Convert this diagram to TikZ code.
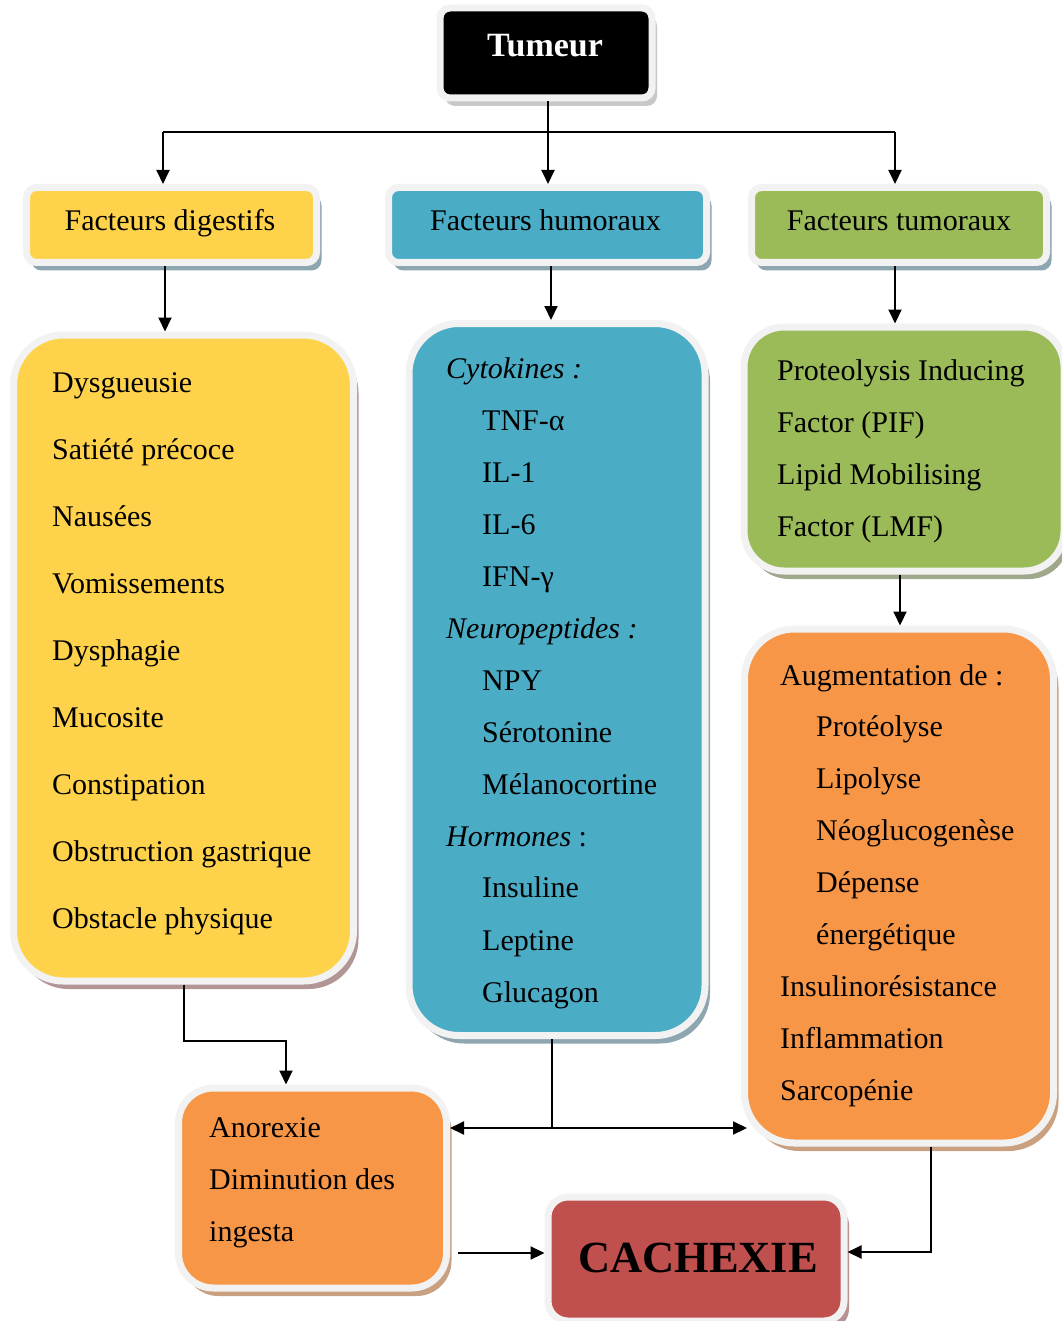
\documentclass[tikz,border=0pt]{standalone}
\usepackage{fontspec}
\setmainfont{Liberation Serif}
\usetikzlibrary{shadows,arrows.meta}
\definecolor{cyel}{RGB}{254,210,74}
\definecolor{cblu}{RGB}{75,172,198}
\definecolor{cgrn}{RGB}{155,187,89}
\definecolor{corg}{RGB}{247,150,70}
\definecolor{cred}{RGB}{192,80,77}
\definecolor{cfrm}{RGB}{242,242,242}
\definecolor{shgray}{RGB}{200,200,200}
\definecolor{shblu}{RGB}{142,166,176}
\definecolor{shyel}{RGB}{178,150,150}
\definecolor{shgrn}{RGB}{160,168,140}
\definecolor{shorg}{RGB}{201,160,128}
\definecolor{shred}{RGB}{184,146,146}
\tikzset{
  bx/.style n args={3}{draw=cfrm, line width=7pt, fill=#1, rounded corners=#2,
    inner sep=0pt, drop shadow={shadow xshift=5pt, shadow yshift=-8pt, fill=#3, opacity=1}},
  txt/.style={font=\fontsize{30}{36}\selectfont, anchor=base west, inner sep=0pt},
  ttl/.style={font=\fontsize{30}{36}\selectfont, anchor=base, inner sep=0pt},
  arr/.style={line width=2pt, -{Triangle[length=14pt,width=13pt]}},
  ln/.style={line width=2pt}
}
\begin{document}
\begin{tikzpicture}[x=1pt,y=-1pt]
\useasboundingbox (0,0) rectangle (1061,1321);
% boxes
\node[bx={black}{10pt}{shgray}, minimum width=212pt, minimum height=90pt] (tumeur) at (546,53) {};
\node[bx={cyel}{10pt}{shblu}, minimum width=290pt, minimum height=75pt] (digest) at (171.5,225) {};
\node[bx={cblu}{10pt}{shblu}, minimum width=318pt, minimum height=75pt] (humor) at (547.5,225) {};
\node[bx={cgrn}{10pt}{shblu}, minimum width=295pt, minimum height=75pt] (tumor) at (899,225) {};
\node[bx={cyel}{50pt}{shyel}, minimum width=340pt, minimum height=646pt] (yellow) at (183.5,658) {};
\node[bx={cblu}{50pt}{shblu}, minimum width=296pt, minimum height=712pt] (blue) at (557,679.5) {};
\node[bx={cgrn}{40pt}{shgrn}, minimum width=320pt, minimum height=244pt] (green) at (904,449) {};
\node[bx={corg}{50pt}{shorg}, minimum width=309pt, minimum height=514pt] (orangeR) at (899,886) {};
\node[bx={corg}{35pt}{shorg}, minimum width=268pt, minimum height=200pt] (orangeL) at (312.5,1188) {};
\node[bx={cred}{20pt}{shred}, minimum width=296pt, minimum height=124pt] (cachexie) at (696,1259) {};
% titles
\node[ttl, font=\fontsize{34}{40}\selectfont\bfseries, text=white] (ttum) at (545,57) {Tumeur};
\node[ttl] (tdig) at (170,231) {Facteurs digestifs};
\node[ttl] (thum) at (545.5,231) {Facteurs humoraux};
\node[ttl] (ttmr) at (899,231) {Facteurs tumoraux};
\node[ttl, font=\fontsize{44.5}{50}\selectfont\bfseries] (tcach) at (698,1272) {CACHEXIE};
% yellow texts
\node[txt] (y1) at (52,392) {Dysgueusie};
\node[txt] (y2) at (52,459) {Satiété précoce};
\node[txt] (y3) at (52,526) {Nausées};
\node[txt] (y4) at (52,593) {Vomissements};
\node[txt] (y5) at (52,660) {Dysphagie};
\node[txt] (y6) at (52,727) {Mucosite};
\node[txt] (y7) at (52,794) {Constipation};
\node[txt] (y8) at (52,861) {Obstruction gastrique};
\node[txt] (y9) at (52,928) {Obstacle physique};
% blue texts
\node[txt] (b1) at (446,378) {\textit{Cytokines :}};
\node[txt] (b2) at (482,430) {TNF-α};
\node[txt] (b3) at (482,482) {IL-1};
\node[txt] (b4) at (482,534) {IL-6};
\node[txt] (b5) at (482,586) {IFN-γ};
\node[txt] (b6) at (446,638) {\textit{Neuropeptides :}};
\node[txt] (b7) at (482,690) {NPY};
\node[txt] (b8) at (482,742) {Sérotonine};
\node[txt] (b9) at (482,794) {Mélanocortine};
\node[txt] (b10) at (446,846) {\textit{Hormones} :};
\node[txt] (b11) at (482,897) {Insuline};
\node[txt] (b12) at (482,950) {Leptine};
\node[txt] (b13) at (482,1002) {Glucagon};
% green texts
\node[txt] (g1) at (777,380) {Proteolysis Inducing};
\node[txt] (g2) at (777,432) {Factor (PIF)};
\node[txt] (g3) at (777,484) {Lipid Mobilising};
\node[txt] (g4) at (777,536) {Factor (LMF)};
% orange right texts
\node[txt] (r1) at (780,685) {Augmentation de :};
\node[txt] (r2) at (816,736) {Protéolyse};
\node[txt] (r3) at (816,788) {Lipolyse};
\node[txt] (r4) at (816,840) {Néoglucogenèse};
\node[txt] (r5) at (816,892) {Dépense};
\node[txt] (r6) at (816,944) {énergétique};
\node[txt] (r7) at (780,996) {Insulinorésistance};
\node[txt] (r8) at (780,1048) {Inflammation};
\node[txt] (r9) at (780,1100) {Sarcopénie};
% orange left texts
\node[txt] (l1) at (209,1137) {Anorexie};
\node[txt] (l2) at (209,1189) {Diminution des};
\node[txt] (l3) at (209,1241) {ingesta};
% connectors
\coordinate (t0) at ([xshift=2pt]tumeur.south);
\coordinate (jl) at (163,132);
\coordinate (jr) at (895,132);
\draw[arr] (t0) -- (t0 |- humor.north);
\draw[ln] (jl) -- (jr);
\draw[arr] (jl) -- (jl |- digest.north);
\draw[arr] (jr) -- (jr |- tumor.north);
\coordinate (d0) at ([xshift=-6.5pt]digest.south);
\draw[arr] (d0) -- (d0 |- yellow.north);
\coordinate (h0) at ([xshift=3.5pt]humor.south);
\draw[arr] (h0) -- (h0 |- blue.north);
\coordinate (m0) at ([xshift=-4pt]tumor.south);
\draw[arr] (m0) -- (m0 |- green.north);
\coordinate (g0) at ([xshift=-4pt]green.south);
\draw[arr] (g0) -- (g0 |- orangeR.north);
\coordinate (y0) at ([xshift=0.5pt]yellow.south);
\coordinate (o1) at ([xshift=-26.5pt]orangeL.north);
\draw[arr] (y0) -- ++(0,56) -| (o1);
\coordinate (b0) at ([xshift=-5pt]blue.south);
\coordinate (bh) at (552,1128);
\draw[ln] (b0) -- (bh);
\draw[arr] (bh) -- (bh -| orangeL.east);
\draw[arr] (bh) -- ([xshift=6pt]bh -| orangeR.west);
\coordinate (l0) at (458,1253);
\draw[arr] (l0) -- (l0 -| cachexie.west);
\coordinate (r0) at ([xshift=32pt]orangeR.south);
\draw[arr] (r0) |- ([yshift=7pt]cachexie.east);
\end{tikzpicture}
\end{document}
